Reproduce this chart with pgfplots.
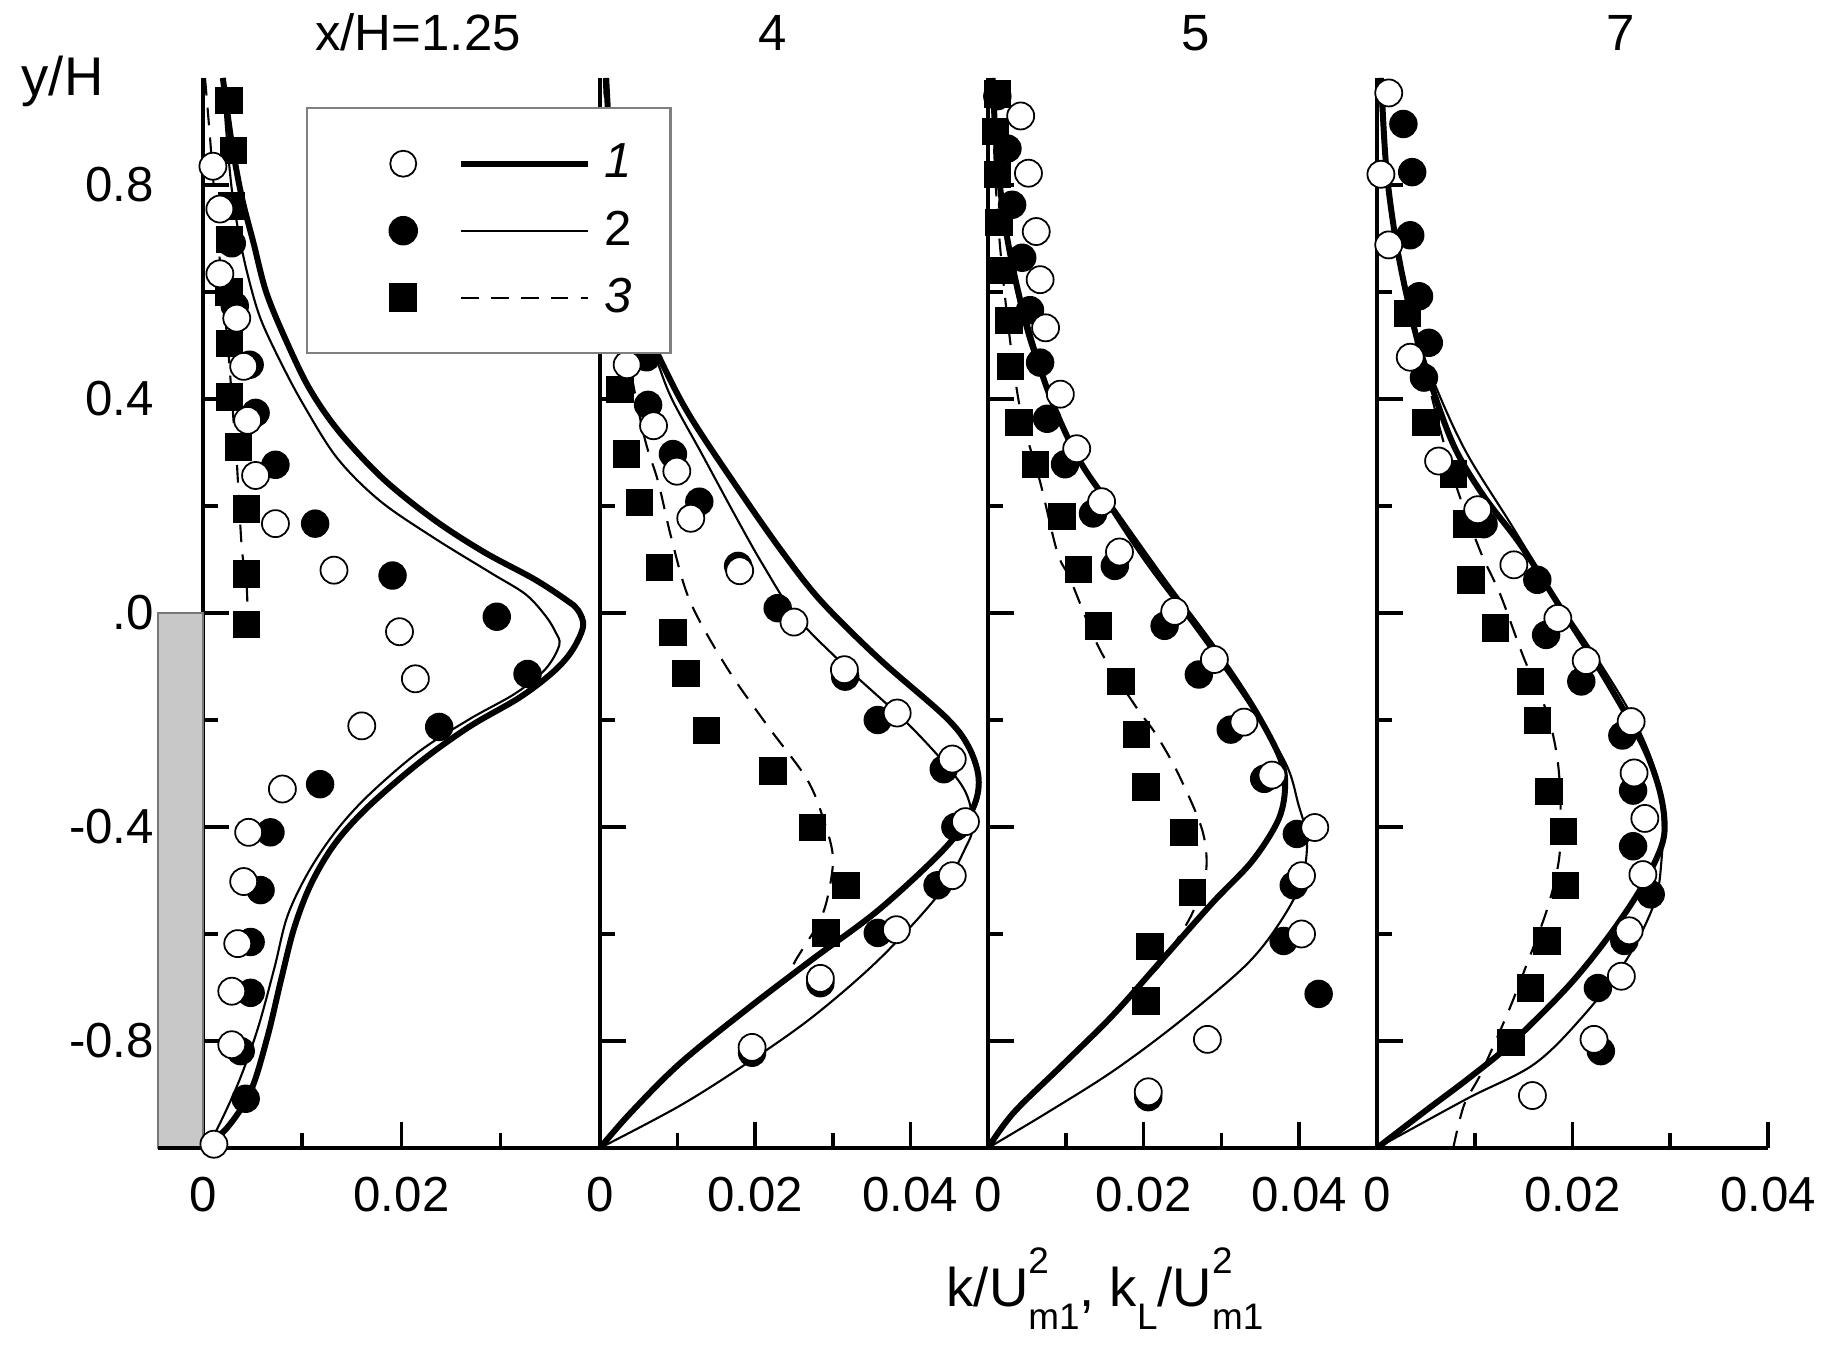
\documentclass[border=0pt]{standalone}
\usepackage{fontspec}
\setmainfont{Liberation Sans}
\usepackage{pgfplots}
\pgfplotsset{compat=1.18}
\newcommand\fs{\fontsize{14}{16}\selectfont}
\newcommand\lsub[1]{\raisebox{-2.3mm}{\fontsize{10.5}{10.5}\selectfont #1}}
\newcommand\lsup[1]{\raisebox{3.3mm}{\fontsize{10.5}{10.5}\selectfont #1}}
\pgfplotsset{
  panel/.style={
    scale only axis, height=107mm, ymin=-1, ymax=1,
    axis lines*=left, x axis line style={-}, y axis line style={-},
    axis line style={line width=1pt, black},
    tick align=inside, major tick length=2.6mm, minor tick length=1.5mm,
    tick style={black, line width=1pt},
    minor tick style={black, line width=1pt},
    ytick={-0.8,-0.4,0,0.4,0.8}, minor ytick={-0.6,-0.2,0.2,0.6},
    yticklabel={\mbox{}},
    xtick={0,0.02,0.04}, minor xtick={0.01,0.03},
    xticklabels={0,0.02,0.04},
    scaled x ticks=false, scaled y ticks=false,
    xticklabel style={yshift=-1.7mm},
    tick label style={font=\fs},
    clip=false,
    title style={anchor=base, yshift=0.6mm, font=\fontsize{14.5}{17}\selectfont},
  },
  thickl/.style={black, line width=1.7pt, smooth, tension=0.55},
  thinl/.style={black, line width=0.6pt, smooth, tension=0.55},
  dashl/.style={black, line width=0.6pt, dash pattern=on 5pt off 3.5pt, smooth, tension=0.55},
  sq/.style={only marks, mark=square*, mark size=1.3mm, mark options={fill=black, draw=black}},
  fc/.style={only marks, mark=*, mark size=1.35mm, mark options={fill=black, draw=black}},
  oc/.style={only marks, mark=*, mark size=1.35mm, mark options={fill=white, draw=black, line width=0.5pt}},
}
\begin{document}
\begin{tikzpicture}
\path[use as bounding box] (0,0) rectangle (182.6mm,134.6mm);
% ---------------- panel 1 ----------------
\begin{axis}[panel, at={(20.3mm,19.8mm)}, anchor=south west, width=39.7mm,
  xmin=0, xmax=0.04, xtick={0,0.02}, xticklabels={0,0.02},
  yticklabels={-0.8,-0.4,.0,0.4,0.8}, yticklabel style={xshift=-3.66mm},
  title={x/H=1.25}, title style={at={(axis description cs:0.5416,1)}},
  ylabel={y/H}, ylabel style={rotate=-90, at={(axis description cs:-0.4584,0.9832)}, anchor=base west, inner sep=0pt, font=\fontsize{15.5}{18}\selectfont}]
\addplot[fill={rgb,255:red,200;green,200;blue,200}, draw={rgb,255:red,120;green,120;blue,120}, line width=0.6pt, forget plot]
  coordinates {(-0.0045,-1) (0,-1) (0,0) (-0.0045,0)} -- cycle;
\addplot[black, line width=1pt, forget plot] coordinates {(-0.0045,-1) (0,-1)};
\addplot[thickl] coordinates {(0,-1) (0.0024,-0.963) (0.0048,-0.894) (0.0065,-0.792) (0.0079,-0.683) (0.0092,-0.588) (0.0109,-0.506) (0.0133,-0.431) (0.0166,-0.363) (0.0217,-0.281) (0.0268,-0.213) (0.0319,-0.158) (0.0353,-0.11) (0.0372,-0.07) (0.0383,-0.025) (0.0378,0.005) (0.0367,0.023) (0.0334,0.063) (0.0283,0.114) (0.0233,0.174) (0.0182,0.25) (0.0138,0.337) (0.0108,0.417) (0.0085,0.504) (0.0064,0.598) (0.0051,0.691) (0.0039,0.778) (0.0029,0.878) (0.0022,0.972) (0.0020,1.0)};
\addplot[thinl] coordinates {(0,-1) (0.0011,-0.976) (0.0035,-0.881) (0.0055,-0.778) (0.0072,-0.663) (0.0085,-0.567) (0.0106,-0.485) (0.0133,-0.41) (0.0166,-0.342) (0.0217,-0.26) (0.0268,-0.199) (0.0315,-0.15) (0.0345,-0.105) (0.0359,-0.06) (0.0355,-0.035) (0.0345,-0.005) (0.0325,0.035) (0.029,0.075) (0.0233,0.14) (0.0178,0.21) (0.0135,0.29) (0.0101,0.39) (0.0078,0.47) (0.0058,0.55) (0.0046,0.625) (0.0037,0.70) (0.0029,0.792) (0.0023,0.912) (0.0020,1.0)};
\addplot[dashl] coordinates {(0.0002,1.0) (0.0007,0.89) (0.0015,0.7) (0.0025,0.5) (0.0031,0.354) (0.0034,0.284) (0.0039,0.124) (0.0044,0.05) (0.0045,-0.02)};
\addplot[sq] coordinates {(0.0026,0.958) (0.0031,0.865) (0.0029,0.761) (0.0027,0.698) (0.0026,0.60) (0.0027,0.504) (0.0027,0.404) (0.0036,0.31) (0.0044,0.194) (0.0044,0.073) (0.0044,-0.022)};
\addplot[fc] coordinates {(0.0029,0.691) (0.0032,0.574) (0.0047,0.464) (0.0053,0.374) (0.0073,0.277) (0.0113,0.167) (0.0191,0.07) (0.0296,-0.007) (0.0327,-0.114) (0.0238,-0.213) (0.0118,-0.320) (0.0068,-0.410) (0.0058,-0.518) (0.0048,-0.615) (0.0048,-0.710) (0.0038,-0.819) (0.0043,-0.908)};
\addplot[oc] coordinates {(0.0010,0.835) (0.0017,0.755) (0.0017,0.634) (0.0034,0.551) (0.0041,0.461) (0.0045,0.36) (0.0053,0.257) (0.0073,0.167) (0.0132,0.08) (0.0198,-0.035) (0.0214,-0.123) (0.0160,-0.211) (0.0080,-0.329) (0.0046,-0.410) (0.0041,-0.502) (0.0035,-0.618) (0.0029,-0.707) (0.0029,-0.807) (0.0011,-0.993)};
\end{axis}
% ---------------- panel 2 ----------------
\begin{axis}[panel, at={(60.0mm,19.8mm)}, anchor=south west, width=38.8mm,
  xmin=0, xmax=0.05,
  title={4}, title style={at={(axis description cs:0.446,1)}},
  legend style={at={(axis description cs:-0.7577,0.9729)}, anchor=north west,
    draw={rgb,255:red,128;green,128;blue,128}, line width=0.7pt, fill=white,
    inner xsep=3.9mm, inner ysep=2.2mm, row sep=0pt, column sep=1.3mm,
    font=\fs, cells={anchor=west}, nodes={inner sep=0pt}},
  legend cell align=left]
\addplot[thickl, forget plot] coordinates {(0,-1) (0.0039,-0.935) (0.0103,-0.842) (0.0189,-0.741) (0.0274,-0.647) (0.036,-0.554) (0.0445,-0.439) (0.048,-0.367) (0.0488,-0.31) (0.0475,-0.25) (0.0445,-0.194) (0.036,-0.086) (0.0285,0.022) (0.0235,0.114) (0.0178,0.232) (0.0118,0.363) (0.0084,0.455) (0.0052,0.56) (0.0032,0.68) (0.0019,0.8) (0.0012,0.9) (0.0008,1.0)};
\addplot[thinl, forget plot] coordinates {(0,-1) (0.0103,-0.921) (0.0189,-0.842) (0.0274,-0.755) (0.036,-0.647) (0.0437,-0.525) (0.0471,-0.439) (0.048,-0.396) (0.0467,-0.324) (0.0403,-0.216) (0.0317,-0.101) (0.0253,-0.007) (0.021,0.09) (0.0175,0.18) (0.0131,0.298) (0.0092,0.402) (0.0071,0.481) (0.0045,0.58) (0.0028,0.7) (0.0016,0.82) (0.001,0.92) (0.0006,1.0)};
\addplot[dashl, forget plot] coordinates {(0,-1) (0.0039,-0.935) (0.0103,-0.842) (0.0189,-0.741) (0.0236,-0.691) (0.0253,-0.647) (0.0283,-0.576) (0.0295,-0.52) (0.030,-0.453) (0.0287,-0.381) (0.0266,-0.309) (0.0215,-0.209) (0.0163,-0.101) (0.0116,0.022) (0.0092,0.14) (0.0075,0.245) (0.0058,0.324) (0.004,0.45) (0.0025,0.6) (0.0012,0.8) (0.0005,1.0)};
\addplot[sq, forget plot] coordinates {(0.0026,0.418) (0.0034,0.297) (0.0051,0.206) (0.0077,0.085) (0.0094,-0.037) (0.0111,-0.113) (0.0137,-0.22) (0.0223,-0.295) (0.0274,-0.401) (0.0317,-0.509) (0.0291,-0.598)};
\addplot[fc, forget plot] coordinates {(0.0060,0.478) (0.0062,0.389) (0.0094,0.297) (0.0128,0.208) (0.0178,0.088) (0.0229,0.009) (0.0316,-0.119) (0.0358,-0.2) (0.0443,-0.292) (0.0458,-0.4) (0.0435,-0.509) (0.0358,-0.598) (0.0284,-0.692) (0.0196,-0.822)};
\addplot[oc, forget plot] coordinates {(0.0035,0.464) (0.0069,0.35) (0.0099,0.265) (0.0117,0.177) (0.018,0.079) (0.025,-0.017) (0.0315,-0.106) (0.0383,-0.187) (0.0454,-0.273) (0.0471,-0.39) (0.0454,-0.491) (0.0382,-0.592) (0.0284,-0.683) (0.0196,-0.812)};
\addlegendimage{legend image code/.code={
  \path[draw=none, fill=none] (-5.7mm,-3.35mm) rectangle (18.5mm,3.35mm);
  \draw[black, line width=0.5pt, fill=white] (0,0) circle (1.3mm);
  \draw[black, line width=1.7pt] (5.8mm,0) -- (18.5mm,0);}}
\addlegendentry{\textit{1}}
\addlegendimage{legend image code/.code={
  \path[draw=none, fill=none] (-5.7mm,-3.35mm) rectangle (18.5mm,3.35mm);
  \fill[black] (0,0) circle (1.35mm);
  \draw[black, line width=0.6pt] (5.8mm,0) -- (18.5mm,0);}}
\addlegendentry{2}
\addlegendimage{legend image code/.code={
  \path[draw=none, fill=none] (-5.7mm,-3.35mm) rectangle (18.5mm,3.35mm);
  \fill[black] (-1.3mm,-1.3mm) rectangle (1.3mm,1.3mm);
  \draw[black, line width=0.6pt, dash pattern=on 5pt off 3.5pt] (5.8mm,0) -- (18.5mm,0);}}
\addlegendentry{\textit{3}}
\end{axis}
% ---------------- panel 3 ----------------
\begin{axis}[panel, at={(98.8mm,19.8mm)}, anchor=south west, width=38.9mm,
  xmin=0, xmax=0.05,
  title={5}, title style={at={(axis description cs:0.535,1)}},
  xlabel={k/U\rlap{\lsup{2}}\lsub{m1}, k\lsub{L}/U\rlap{\lsup{2}}\lsub{m1}},
  xlabel style={at={(axis description cs:-0.108,-0.1477)}, anchor=base west, inner sep=0pt, font=\fontsize{15.5}{18}\selectfont}]
\addplot[thickl] coordinates {(0,-1) (0.0033,-0.934) (0.0097,-0.843) (0.0161,-0.751) (0.0225,-0.646) (0.0289,-0.541) (0.034,-0.463) (0.0374,-0.384) (0.0382,-0.318) (0.0374,-0.266) (0.034,-0.174) (0.0289,-0.063) (0.0225,0.062) (0.0161,0.193) (0.0118,0.284) (0.0084,0.389) (0.0059,0.494) (0.0037,0.612) (0.002,0.743) (0.001,0.887) (0.0006,1.0)};
\addplot[thinl] coordinates {(0,-1) (0.0076,-0.934) (0.0161,-0.856) (0.0246,-0.764) (0.0331,-0.659) (0.0374,-0.581) (0.0403,-0.502) (0.041,-0.423) (0.0399,-0.358) (0.0382,-0.279) (0.0331,-0.161) (0.0267,-0.03) (0.0203,0.094) (0.0152,0.206) (0.011,0.311) (0.0076,0.415) (0.005,0.52) (0.0031,0.638) (0.0016,0.769) (0.0008,0.9) (0.0003,1.0)};
\addplot[dashl] coordinates {(0,-1) (0.0033,-0.934) (0.0097,-0.843) (0.0161,-0.751) (0.018,-0.72) (0.022,-0.66) (0.0239,-0.62) (0.0263,-0.56) (0.028,-0.488) (0.0276,-0.409) (0.0246,-0.305) (0.0216,-0.227) (0.019,-0.175) (0.0144,-0.069) (0.0106,0.062) (0.0089,0.114) (0.0067,0.245) (0.0042,0.376) (0.0025,0.55) (0.0012,0.75) (0.0004,1.0)};
\addplot[sq] coordinates {(0.0012,0.97) (0.0010,0.9) (0.0012,0.82) (0.0014,0.73) (0.0020,0.64) (0.0027,0.547) (0.0029,0.461) (0.0040,0.356) (0.0061,0.278) (0.0095,0.18) (0.0116,0.081) (0.0142,-0.024) (0.0171,-0.128) (0.0191,-0.227) (0.0203,-0.325) (0.0252,-0.41) (0.0263,-0.522) (0.0208,-0.623) (0.0203,-0.725)};
\addplot[fc] coordinates {(0.0012,0.966) (0.0025,0.868) (0.0031,0.763) (0.0044,0.664) (0.0054,0.566) (0.0067,0.468) (0.0076,0.363) (0.0099,0.278) (0.0135,0.186) (0.0163,0.088) (0.0227,-0.024) (0.0271,-0.115) (0.0312,-0.218) (0.0355,-0.31) (0.0397,-0.413) (0.0393,-0.509) (0.038,-0.613) (0.0425,-0.712) (0.0206,-0.905)};
\addplot[oc] coordinates {(0.0042,0.929) (0.0052,0.822) (0.0062,0.713) (0.0067,0.623) (0.0074,0.533) (0.0093,0.409) (0.0114,0.307) (0.0146,0.208) (0.0169,0.114) (0.024,0.003) (0.0291,-0.087) (0.0329,-0.204) (0.0365,-0.303) (0.042,-0.401) (0.0403,-0.491) (0.0403,-0.6) (0.0282,-0.797) (0.0206,-0.895)};
\end{axis}
% ---------------- panel 4 ----------------
\begin{axis}[panel, at={(137.7mm,19.8mm)}, anchor=south west, width=39.1mm,
  xmin=0, xmax=0.04,
  title={7}, title style={at={(axis description cs:0.624,1)}}]
\addplot[thickl] coordinates {(0,-1) (0.005,-0.93) (0.0095,-0.868) (0.0137,-0.805) (0.0195,-0.699) (0.0236,-0.607) (0.027,-0.515) (0.0291,-0.436) (0.0294,-0.384) (0.0287,-0.318) (0.027,-0.24) (0.0229,-0.109) (0.0188,0.009) (0.0147,0.127) (0.0109,0.219) (0.0079,0.311) (0.0055,0.429) (0.0038,0.533) (0.0021,0.678) (0.001,0.822) (0.0005,0.966) (0.0004,1.0)};
\addplot[thinl] coordinates {(0,-1) (0.0092,-0.908) (0.0161,-0.843) (0.0212,-0.751) (0.0256,-0.646) (0.0284,-0.541) (0.0291,-0.463) (0.0292,-0.384) (0.0284,-0.292) (0.0263,-0.2) (0.0229,-0.096) (0.0181,0.035) (0.0137,0.166) (0.0092,0.298) (0.0062,0.415) (0.0038,0.533) (0.0021,0.678) (0.0009,0.835) (0.0003,0.966) (0.0002,1.0)};
\addplot[dashl] coordinates {(0.0078,-1) (0.0089,-0.92) (0.0106,-0.862) (0.0133,-0.751) (0.015,-0.672) (0.0174,-0.554) (0.0186,-0.463) (0.0188,-0.38) (0.0185,-0.279) (0.0174,-0.187) (0.015,-0.083) (0.0126,0.035) (0.0106,0.114) (0.0082,0.232) (0.0065,0.34) (0.0051,0.441) (0.0024,0.638) (0.001,0.835) (0.0004,1.0)};
\addplot[sq] coordinates {(0.0031,0.56) (0.0050,0.356) (0.0078,0.26) (0.0092,0.166) (0.0096,0.062) (0.0121,-0.028) (0.0157,-0.128) (0.0164,-0.201) (0.0176,-0.334) (0.0191,-0.408) (0.0193,-0.509) (0.0174,-0.613) (0.0157,-0.701) (0.0137,-0.803)};
\addplot[fc] coordinates {(0.0027,0.914) (0.0036,0.824) (0.0034,0.706) (0.0043,0.592) (0.0053,0.505) (0.0048,0.44) (0.0109,0.166) (0.0164,0.062) (0.0173,-0.041) (0.0209,-0.128) (0.0251,-0.229) (0.0262,-0.332) (0.0262,-0.436) (0.028,-0.526) (0.0253,-0.613) (0.0226,-0.701) (0.0229,-0.819)};
\addplot[oc] coordinates {(0.0012,0.972) (0.0004,0.82) (0.0012,0.688) (0.0034,0.478) (0.0063,0.284) (0.0103,0.193) (0.014,0.090) (0.0185,-0.010) (0.0214,-0.089) (0.026,-0.203) (0.0263,-0.299) (0.0274,-0.384) (0.0272,-0.489) (0.0258,-0.594) (0.025,-0.679) (0.0222,-0.797) (0.0159,-0.902)};
\end{axis}
\end{tikzpicture}
\end{document}
